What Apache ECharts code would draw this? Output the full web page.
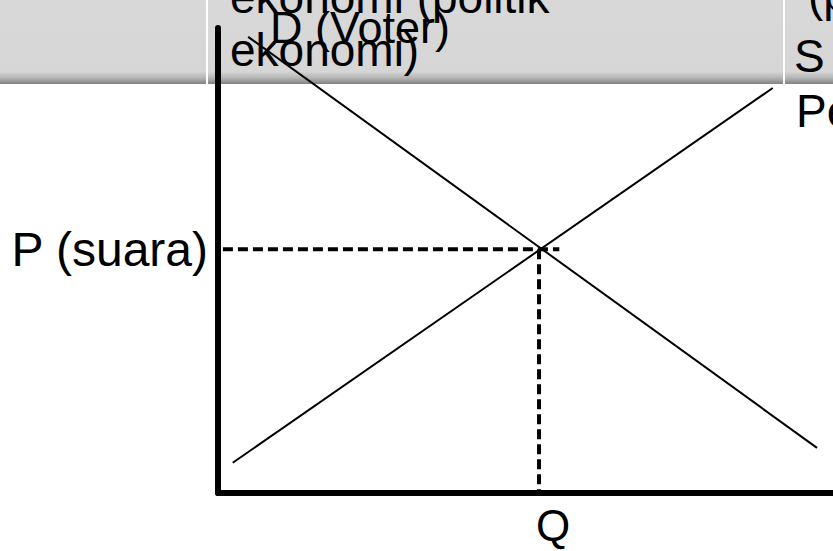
<!DOCTYPE html>
<html>
<head>
<meta charset="utf-8">
<script src="https://cdn.jsdelivr.net/npm/echarts@6/dist/echarts.min.js"></script>
<style>
html, body { margin: 0; padding: 0; background: #fff; }
#main { width: 833px; height: 551px; }
</style>
</head>
<body>
<div id="main"></div>
<script>
// kurva penawaran (S) dan permintaan (D), skala 0..100
var supplyX = [2.4, 90.2];
var supplyY = [6.5, 87.1];
var demandX = [4.9, 97.4];
var demandY = [98.1, 9.7];
var priceEq = 52.4;
var qtyEq = 52.2;
var priceLineX = [0.8, 55.5];
var priceLabel = 'P (suara)';
var qtyLabel = 'Q';

var FONT = '"Liberation Sans", Arial, sans-serif';

function pairs(xs, ys) {
    var out = [];
    for (var i = 0; i < xs.length; i++) out.push([xs[i], ys[i]]);
    return out;
}

function hdrText(txt, x, y, size) {
    return {
        type: 'text', z: 100, x: x, y: y,
        style: { text: txt, fill: '#000', font: size + 'px ' + FONT, verticalAlign: 'middle', align: 'left' }
    };
}

var chart = echarts.init(document.getElementById('main'), null, { renderer: 'svg' });

var option = {
    animation: false,
    backgroundColor: '#fff',
    grid: { left: 218, right: 0, top: 28, bottom: 58, containLabel: false },
    xAxis: {
        type: 'value', min: 0, max: 100,
        axisLine: { show: true, lineStyle: { color: '#000', width: 6 } },
        axisTick: { show: false }, axisLabel: { show: false }, splitLine: { show: false }
    },
    yAxis: {
        type: 'value', min: 0, max: 100,
        axisLine: { show: true, lineStyle: { color: '#000', width: 6 } },
        axisTick: { show: false }, axisLabel: { show: false }, splitLine: { show: false }
    },
    graphic: [
        {
            type: 'rect', z: -10, shape: { x: 0, y: 0, width: 833, height: 84 },
            style: {
                fill: {
                    type: 'linear', x: 0, y: 0, x2: 0, y2: 1,
                    colorStops: [
                        { offset: 0, color: '#d8d8d8' },
                        { offset: 0.85, color: '#d6d6d6' },
                        { offset: 0.93, color: '#b4b4b4' },
                        { offset: 1, color: '#808080' }
                    ]
                }
            }
        },
        { type: 'rect', z: -9, shape: { x: 206, y: 0, width: 2, height: 84 }, style: { fill: '#fff' } },
        { type: 'rect', z: -9, shape: { x: 783, y: 0, width: 2, height: 84 }, style: { fill: '#fff' } },
        hdrText('ekonomi (politik', 230, -3, 46),
        hdrText('ekonomi)', 230, 50, 46),
        hdrText('D (Voter)', 270, 27, 45),
        hdrText('(p', 808, -5, 46),
        hdrText('S', 794, 56, 46),
        hdrText('Pe', 796, 111, 46)
    ],
    series: [
        {
            type: 'line', data: pairs(demandX, demandY), symbol: 'none', z: 5,
            lineStyle: { color: '#000', width: 2 }
        },
        {
            type: 'line', data: pairs(supplyX, supplyY), symbol: 'none', z: 5,
            lineStyle: { color: '#000', width: 2 }
        },
        {
            type: 'line', data: pairs(priceLineX, [priceEq, priceEq]), symbol: 'none', z: 6,
            lineStyle: { color: '#000', width: 4, type: [10, 5] }
        },
        {
            type: 'line', data: [[qtyEq, priceEq], [qtyEq, 0]], symbol: 'none', z: 6,
            lineStyle: { color: '#000', width: 4, type: [10, 5] }
        },
        {
            type: 'scatter', symbolSize: 0, z: 10,
            itemStyle: { opacity: 1, color: '#000' },
            data: [
                {
                    value: [0, priceEq],
                    label: { show: true, formatter: priceLabel, position: 'left', distance: 10, fontSize: 48 }
                },
                {
                    value: [qtyEq, 0],
                    label: { show: true, formatter: qtyLabel, position: 'inside', offset: [14, 32], fontSize: 44 }
                }
            ],
            label: { color: '#000', opacity: 1, fontFamily: FONT, textBorderWidth: 0 }
        }
    ]
};

chart.setOption(option);
</script>
</body>
</html>
